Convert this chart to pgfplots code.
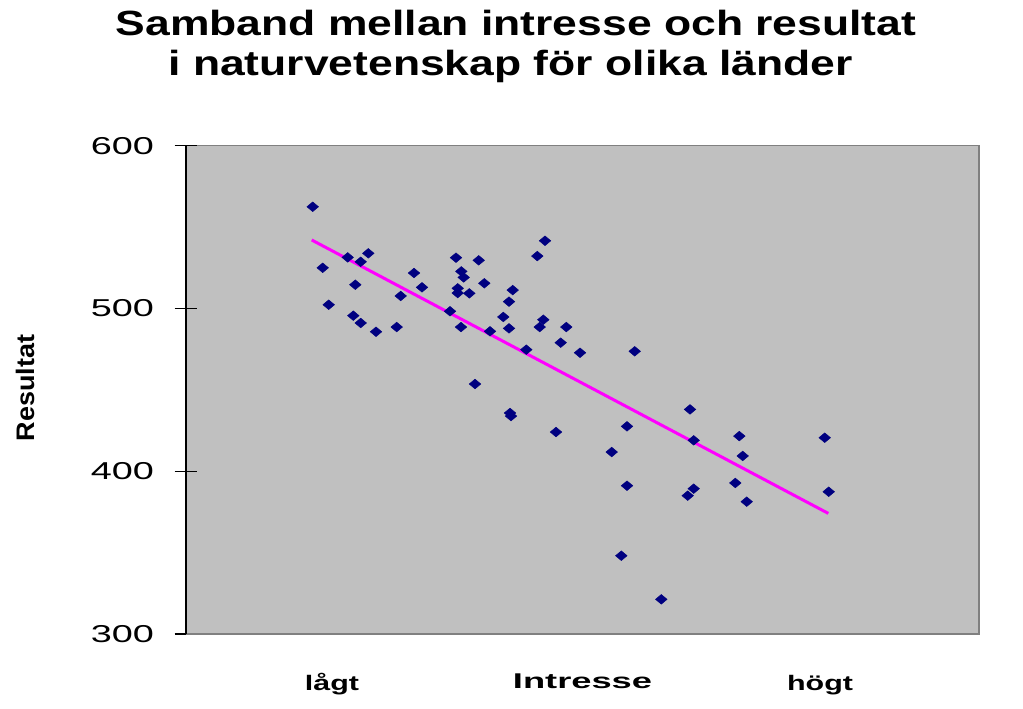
\documentclass[border=0pt]{standalone}
\usepackage{fontspec}
\setmainfont{Liberation Sans}
\usepackage{pgfplots}
\pgfplotsset{compat=1.18}
\newfontfamily\titlefont[FakeStretch=1.27]{Liberation Sans}
\newfontfamily\tickfont[FakeStretch=1.55]{Liberation Sans}
\newfontfamily\xlabfont[FakeStretch=1.45]{Liberation Sans}
\newfontfamily\intfont[FakeStretch=1.7]{Liberation Sans}
\newfontfamily\ylabfont[FakeStretch=1.065]{Liberation Sans}
\definecolor{plotbg}{HTML}{C0C0C0}
\definecolor{frame}{HTML}{808080}
\definecolor{navyc}{HTML}{000080}
\definecolor{trend}{HTML}{FF00FF}
\begin{document}
\begin{tikzpicture}[x=0.75pt,y=0.75pt]
\path[use as bounding box] (0,0) rectangle (1023,708);
\begin{axis}[
  at={(139.5pt,55.5pt)}, anchor=south west,
  scale only axis, width=594.75pt, height=366.2pt,
  xmin=186, xmax=979, ymin=300, ymax=600,
  axis background/.style={fill=plotbg, draw=frame, line width=1.1pt},
  axis x line*=bottom, axis y line*=left,
  x axis line style={draw=frame, line width=1.1pt, -},
  y axis line style={draw=black, line width=1.5pt, -},
  ytick={300,400,500,600},
  tick align=center,
  major tick length=17pt,
  y tick style={black, line width=1pt},
  xtick={332,820},
  xticklabels={lågt,högt},
  x tick style={draw=none},
  /pgf/number format/assume math mode=true,
  yticklabel style={font=\tickfont\fontsize{18.3}{18.3}\selectfont, anchor=east, xshift=-12pt},
  xticklabel style={font=\xlabfont\bfseries\fontsize{15.75}{15.75}\selectfont, anchor=base, yshift=-34pt},
  xlabel={Intresse},
  xlabel style={font=\intfont\bfseries\fontsize{16}{16}\selectfont, at={(axis description cs:0.5,0)}, anchor=base, yshift=-41pt},
  clip=false,
]
\addplot[only marks, mark=diamond*, mark size=3.6pt, mark options={xscale=1.6, fill=navyc, draw=navyc, line width=0.4pt}] coordinates {
(312.7,562.5) (322.7,525.0) (328.7,502.3) (347.7,531.4) (355.3,514.6)
(353.3,495.6) (360.7,528.7) (360.7,491.1) (368.3,533.9) (376.0,485.7)
(396.7,488.6) (400.7,507.7) (414.0,521.8) (422.0,513.0) (450.0,498.3)
(456.0,531.2) (461.3,522.8) (463.7,519.1) (457.7,512.4) (457.7,509.5)
(469.3,509.3) (478.7,529.6) (484.3,515.5) (461.0,488.6) (490.0,486.0)
(475.0,453.6) (503.3,494.8) (509.0,504.2) (512.7,511.3) (509.0,487.8)
(510.0,435.8) (511.0,433.9) (526.3,474.7) (537.3,532.2) (545.0,541.6)
(539.7,488.6) (543.3,493.1) (556.0,424.1) (560.7,479.0) (566.3,488.6)
(580.0,472.8) (611.7,411.8) (621.3,348.1) (627.0,427.6) (627.0,391.1)
(634.7,473.7) (661.3,321.3) (687.7,385.0) (690.0,438.0) (693.7,419.0)
(693.7,389.3) (735.3,392.8) (739.3,421.6) (742.7,409.4) (746.7,381.3)
(824.7,420.6) (828.7,387.4)
};
\addplot[trend, line width=2.25pt, no marks] coordinates {(311.7,542.1) (828.3,374.1)};
\end{axis}
\node[anchor=base, font=\titlefont\bfseries\fontsize{26.25}{26.25}\selectfont] at (516,672) {Samband mellan intresse och resultat};
\node[anchor=base, font=\titlefont\bfseries\fontsize{26.25}{26.25}\selectfont] at (510.5,632) {i naturvetenskap för olika länder};
\node[rotate=90, font=\ylabfont\bfseries\fontsize{19}{19}\selectfont] at (25,320) {Resultat};
\end{tikzpicture}
\end{document}
